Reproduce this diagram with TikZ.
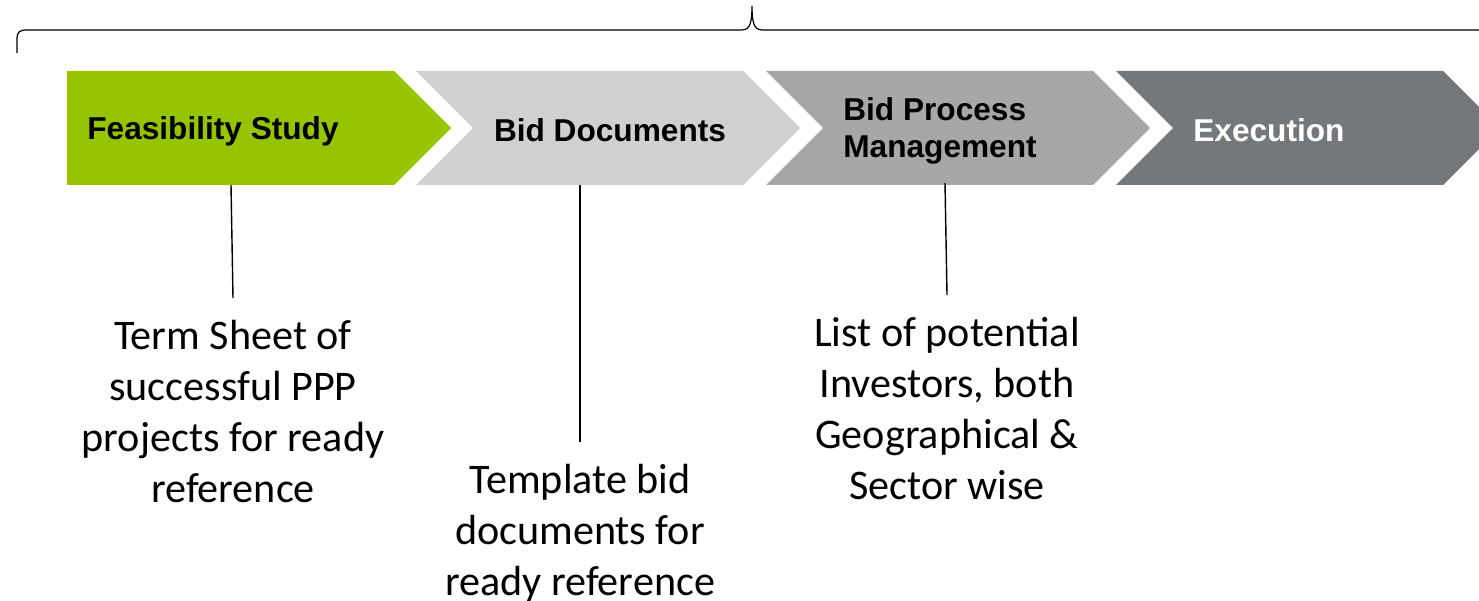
\documentclass[tikz,border=0pt]{standalone}
\usepackage{fontspec}
\setmainfont{Carlito}
\newfontfamily\headfont{Liberation Sans}
\usetikzlibrary{positioning}
\definecolor{fsgreen}{RGB}{149,197,0}
\definecolor{bdgray}{RGB}{208,208,207}
\definecolor{bpmgray}{RGB}{166,167,169}
\definecolor{exgray}{RGB}{117,120,123}

\begin{document}
\begin{tikzpicture}[x=0.02cm,y=-0.02cm,
    head/.style={font=\headfont\bfseries\fontsize{18}{21.5}\selectfont,inner sep=0pt,align=left},
    note/.style={font=\fontsize{24}{29}\selectfont,align=center,anchor=north,inner xsep=0pt,inner ysep=0.44cm},
    link/.style={line width=0.8pt}]
	\useasboundingbox (0,0) rectangle (1479,601);
	% brace over the stages
	\draw[line width=0.7pt] (17,53) -- (17,40) .. controls (17,32) and (19,30) .. (27,30) -- (740,30)
		.. controls (748,30) and (752,28) .. (752,6) .. controls (752,28) and (756,30) .. (764,30) -- (1479,30);
	% chevrons
	\fill[fsgreen] (67,71) -- (394,71) -- (451,128) -- (394,185) -- (67,185) -- cycle;
	\foreach \x/\c in {416/bdgray,766/bpmgray,1116/exgray}
		\fill[\c] (\x,71) -- ++(327,0) -- ++(57,57) -- ++(-57,57) -- ++(-327,0) -- ++(57,-57) -- cycle;
	\node[head,anchor=west] (fs) at (87,131) {Feasibility Study};
	\node[head] (bd) at (610,130) {Bid Documents};
	\node[head,anchor=west] (bpm) at (843,131) {Bid Process\\Management};
	\node[head,anchor=west,text=white] (ex) at (1193,130) {Execution};
	% notes
	\node[note] (term) at (233,298) {Term Sheet of\\successful PPP\\projects for ready\\reference};
	\node[note] (tmpl) at (580,442) {Template bid\\documents for\\ready reference};
	\node[note] (inv) at (947,295) {List of potential\\Investors, both\\Geographical \&\\Sector wise};
	\coordinate (fs-b) at (231,185);
	\coordinate (bd-b) at (580,185);
	\coordinate (bpm-b) at (945,183);
	\draw[link] (fs-b) -- (term.north);
	\draw[link] (bd-b) -- (tmpl.north);
	\draw[link] (bpm-b) -- (inv.north);
\end{tikzpicture}
\end{document}
